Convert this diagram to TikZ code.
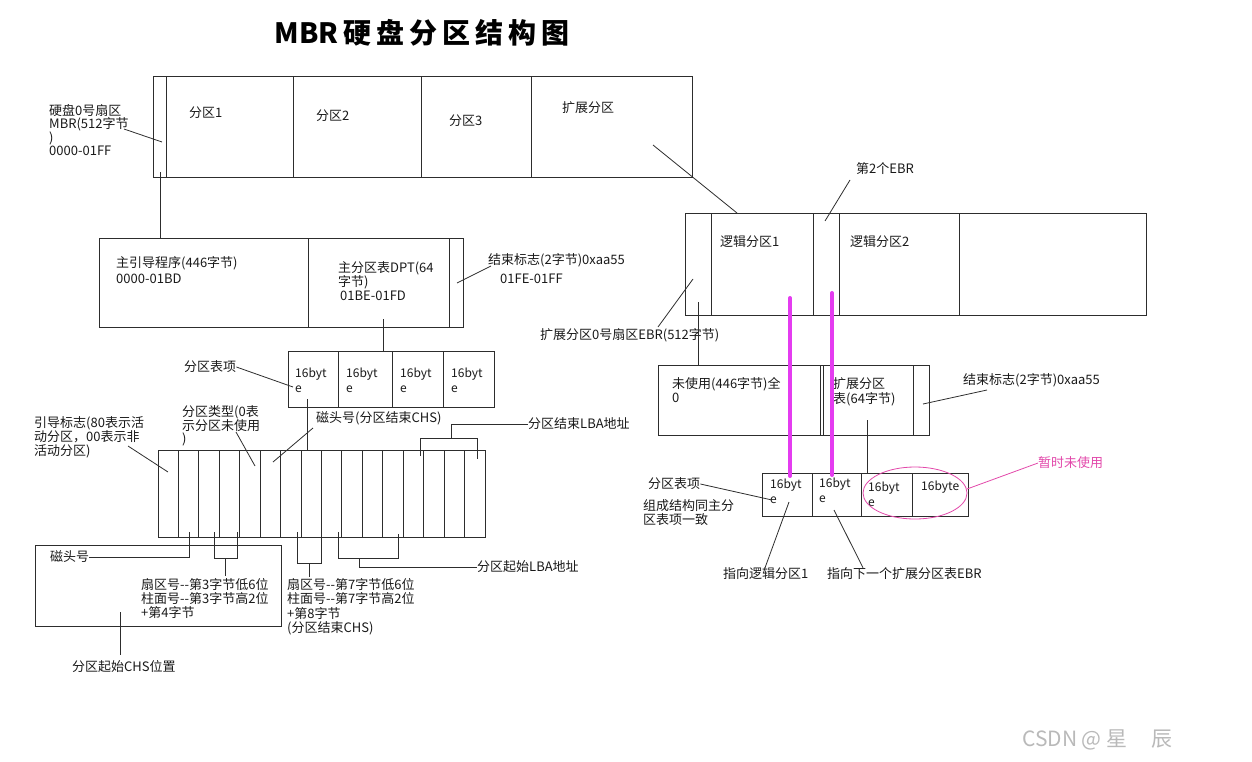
\documentclass[tikz,border=0pt]{standalone}
\usepackage{fontspec}
\setmainfont{Noto Sans CJK SC}
\definecolor{inkline}{RGB}{45,45,45}
\definecolor{hlviolet}{RGB}{228,60,240}
\definecolor{markpink}{RGB}{226,72,170}
\definecolor{wmgray}{RGB}{185,185,185}
\tikzset{
  lbl/.style={inner sep=0pt, anchor=west, text=black!90, font=\fontsize{13}{14}\selectfont},
  lblblk/.style={lbl, anchor=north west, align=left},
  cell/.style={lblblk, font=\fontsize{12}{15}\selectfont},
  wire/.style={draw=inkline, line width=0.8pt},
  box/.style={draw=inkline, line width=1pt},
  hl/.style={draw=hlviolet, line width=4pt, line cap=round},
}
\begin{document}
\begin{tikzpicture}[x=1pt,y=-1pt]
		\useasboundingbox (0,0) rectangle (1252,761);
		\node[inner sep=0pt, font=\fontsize{28}{30}\selectfont\bfseries] (title) at (422,33) {\makebox[295pt][s]{MBR\hfil 硬\hfil 盘\hfil 分\hfil 区\hfil 结\hfil 构\hfil 图}};
		% disk
		\draw[box] (153,76) rectangle (692,177);
		\foreach \x in {166,293,421,531} \draw[box] (\x,76) to (\x,177);
		\node[lbl] (part1) at (189,113) {分区1};
		\node[lbl] (part2) at (316,116) {分区2};
		\node[lbl] (part3) at (449,121) {分区3};
		\node[lbl] (partext) at (562,108) {扩展分区};
		\node[lblblk, font=\fontsize{13}{12.8}\selectfont] (mbrlbl) at (49,104) {硬盘0号扇区\\MBR(512字节\\)\\0000-01FF};
		\coordinate (mbrA) at (124,129);
		\coordinate (mbrB) at (162,142);
		\draw[wire] (mbrA) to (mbrB);
		\coordinate (mbrC) at (160,172);
		\coordinate (bootTop) at (160,238);
		\draw[wire] (mbrC) to (bootTop);
		\coordinate (extA) at (653,145);
		\coordinate (extB) at (737,213);
		\draw[wire] (extA) to (extB);
		% mbr sector
		\draw[box] (99,238) rectangle (463,327);
		\foreach \x in {308,449} \draw[box] (\x,238) to (\x,327);
		\node[lbl] (boot) at (116,263) {主引导程序(446字节)};
		\node[lbl] (bootaddr) at (116,279) {0000-01BD};
		\node[lblblk, font=\fontsize{13}{13}\selectfont] (dpt) at (338,261) {主分区表DPT(64\\字节)};
		\node[lbl] (dptaddr) at (340,296) {01BE-01FD};
		\node[lbl] (endmark) at (488,260) {结束标志(2字节)0xaa55};
		\node[lbl] (endaddr) at (500,279) {01FE-01FF};
		\coordinate (endA) at (457,283);
		\coordinate (endB) at (491,266);
		\draw[wire] (endA) to (endB);
		\coordinate (dptA) at (383,319);
		\coordinate (dptB) at (383,351);
		\draw[wire] (dptA) to (dptB);
		% dpt entries
		\draw[box] (288,351) rectangle (494,407);
		\foreach \x in {338,392,443} \draw[box] (\x,351) to (\x,407);
		\foreach \x/\n in {295/ea,346/eb,400/ec,451/ed}
			\node[cell] (\n) at (\x,368) {16byt\\e};
		\node[lbl] (entry) at (184,367) {分区表项};
		\coordinate (entryB) at (293,387);
		\draw[wire] (entry.east) to (entryB);
		\coordinate (eaA) at (307,399);
		\coordinate (fieldTop) at (307,451);
		\draw[wire] (eaA) to (fieldTop);
		% 16 byte fields
		\draw[box] (158,450) rectangle (485,537);
		\foreach \i in {1,...,15} \draw[box] ({158+\i*20.44},450) to ({158+\i*20.44},537);
		\node[lblblk, font=\fontsize{13}{14}\selectfont] (bootflag) at (34,416) {引导标志(80表示活\\动分区，00表示非\\活动分区)};
		\coordinate (bfA) at (128,446);
		\coordinate (bfB) at (168,472);
		\draw[wire] (bfA) to (bfB);
		\node[lblblk, font=\fontsize{13}{13}\selectfont] (ptype) at (182,405) {分区类型(0表\\示分区未使用\\)};
		\coordinate (ptA) at (236,432);
		\coordinate (ptB) at (255,466);
		\draw[wire] (ptA) to (ptB);
		\node[lbl] (endhead) at (316,418) {磁头号(分区结束CHS)};
		\coordinate (ehA) at (313,428);
		\coordinate (ehB) at (273,462);
		\draw[wire] (ehA) to (ehB);
		\node[lbl] (endlba) at (528,424) {分区结束LBA地址};
		\draw[wire] (420,456) |- (477,438) -- (477,459);
		\draw[wire] (451,438) |- (endlba.west);
		% start chs
		\draw[box] (35,545) rectangle (281,626);
		\node[lbl] (head) at (50,557) {磁头号};
		\coordinate (headB) at (189,532);
		\draw[wire] (head.east) -| (headB);
		\draw[wire] (214,532) |- (237,558) -- (237,532);
		\draw[wire] (225.5,558) to (225.5,576);
		\node[lblblk, font=\fontsize{13}{14}\selectfont] (scyl) at (141,578) {扇区号-{}-第3字节低6位\\柱面号-{}-第3字节高2位\\+第4字节};
		\draw[wire] (297,532) |- (321,563) -- (321,532);
		\draw[wire] (309,563) to (309,577);
		\node[lblblk, font=\fontsize{13}{14.5}\selectfont] (ecyl) at (287,578) {扇区号-{}-第7字节低6位\\柱面号-{}-第7字节高2位\\+第8字节\\(分区结束CHS)};
		\node[lbl] (startlba) at (477,567) {分区起始LBA地址};
		\draw[wire] (338,532) |- (398,558) -- (398,534);
		\draw[wire] (359,558) |- (startlba.west);
		\node[lbl] (startchs) at (72,667) {分区起始CHS位置};
		\coordinate (scA) at (120,612);
		\coordinate (scB) at (120,655);
		\draw[wire] (scA) to (scB);
		% extended partition
		\draw[box] (685,213) rectangle (1146,315);
		\foreach \x in {711,813,839,959} \draw[box] (\x,213) to (\x,315);
		\node[lbl] (log1) at (720,242) {逻辑分区1};
		\node[lbl] (log2) at (850,242) {逻辑分区2};
		\node[lbl] (ebr2) at (856,169) {第2个EBR};
		\coordinate (ebr2A) at (850,180);
		\coordinate (ebr2B) at (825,221);
		\draw[wire] (ebr2A) to (ebr2B);
		\node[lbl] (ebr0) at (540,335) {扩展分区0号扇区EBR(512字节)};
		\coordinate (ebr0A) at (693,279);
		\coordinate (ebr0B) at (658,327);
		\draw[wire] (ebr0A) to (ebr0B);
		\coordinate (ebrC) at (698,302);
		\coordinate (ebrTop) at (698,365);
		\draw[wire] (ebrC) to (ebrTop);
		% ebr sector
		\draw[box] (658,365) rectangle (929,435);
		\foreach \x in {820,823,913} \draw[box] (\x,365) to (\x,435);
		\node[lblblk, font=\fontsize{13}{14}\selectfont] (unused) at (672,377) {未使用(446字节)全\\0};
		\node[lblblk, font=\fontsize{13}{15}\selectfont] (ept) at (833,377) {扩展分区\\表(64字节)};
		\node[lbl] (endmark2) at (963,380) {结束标志(2字节)0xaa55};
		\coordinate (end2A) at (923,404);
		\coordinate (end2B) at (987,390);
		\draw[wire] (end2A) to (end2B);
		\coordinate (eptA) at (867,420);
		\coordinate (eptB) at (867,473);
		\draw[wire] (eptA) to (eptB);
		% ebr entries
		\draw[box] (762,473) rectangle (968,516);
		\foreach \x in {812,861,912} \draw[box] (\x,473) to (\x,516);
		\node[cell] (fa) at (770,479) {16byt\\e};
		\node[cell] (fb) at (819,478) {16byt\\e};
		\node[cell] (fc) at (868,482) {16byt\\e};
		\node[lbl, font=\fontsize{12}{15}\selectfont] (fd) at (921,487) {16byte};
		\draw[markpink, line width=0.8pt] (915,493) ellipse [x radius=52pt, y radius=26pt];
		\node[lbl, text=markpink] (spare) at (1038,463) {暂时未使用};
		\coordinate (spareA) at (967,489);
		\draw[markpink, line width=0.8pt] (spareA) to (spare.west);
		\node[lbl] (entry2) at (648,484) {分区表项};
		\coordinate (entry2B) at (772,500);
		\draw[wire] (entry2.east) to (entry2B);
		\node[lblblk, font=\fontsize{13}{14}\selectfont] (same) at (643,499) {组成结构同主分\\区表项一致};
		\node[lbl] (tolog) at (723,574) {指向逻辑分区1};
		\coordinate (faA) at (789,502);
		\draw[wire] (faA) to (tolog.north -| 765,0);
		\node[lbl] (tonext) at (827,574) {指向下一个扩展分区表EBR};
		\coordinate (fbA) at (834,510);
		\draw[wire] (fbA) to (tonext.north -| 863,0);
		% highlight
		\coordinate (hlA) at (790,298);
		\coordinate (hlB) at (790,476);
		\coordinate (hlC) at (832,293);
		\coordinate (hlD) at (832,475);
		\draw[hl] (hlA) to (hlB);
		\draw[hl] (hlC) to (hlD);
		\node[lbl, text=wmgray, font=\fontsize{21}{23}\selectfont] (wm) at (1022,740) {CSDN @ 星\hspace{24pt}辰};
\end{tikzpicture}
\end{document}
